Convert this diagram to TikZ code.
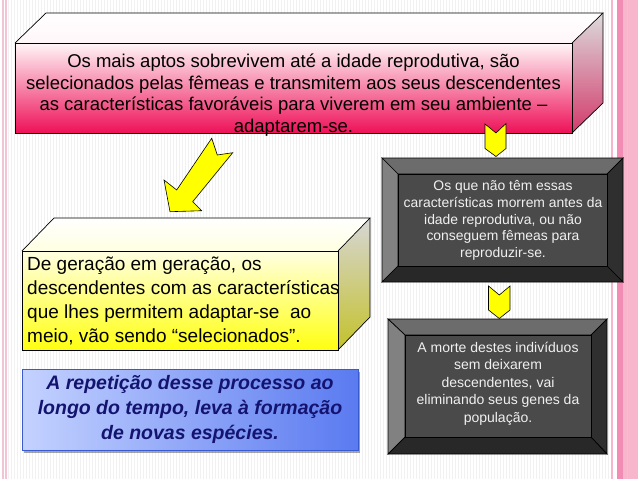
\documentclass[tikz,border=0pt]{standalone}
\usepackage{fontspec}
\setmainfont{Liberation Sans}
\usetikzlibrary{shadows}
\definecolor{bgc}{HTML}{F1F1F1}
\definecolor{pinkA}{HTML}{F2C4D4}
\definecolor{pinkM}{HTML}{F38CB4}
\definecolor{pinkL}{HTML}{F8B6CD}
\definecolor{rtop}{HTML}{FFF6F8}
\definecolor{rmid}{HTML}{F9A6C0}
\definecolor{rbot}{HTML}{EE1058}
\definecolor{rside}{HTML}{D33A6C}
\definecolor{ytop}{HTML}{FFFFE2}
\definecolor{ymid}{HTML}{FFFF90}
\definecolor{ybot}{HTML}{FFFF10}
\definecolor{yside}{HTML}{C4C22A}
\definecolor{bl}{HTML}{C4D2FF}
\definecolor{br}{HTML}{5A7AF0}
\definecolor{bedge}{HTML}{3A5AD0}
\definecolor{navy}{HTML}{141470}
\definecolor{arrowyellow}{HTML}{FFFF00}
\definecolor{bvtop}{HTML}{6C6C6C}
\definecolor{bvleft}{HTML}{818181}
\definecolor{bvright}{HTML}{2F2F2F}
\definecolor{bvbot}{HTML}{282828}
\definecolor{bvin}{HTML}{4A4A4A}
\begin{document}
\begin{tikzpicture}[x=1pt,y=-1pt,
  edge/.style={draw=black,line width=0.7pt,line join=miter},
  chev/.style={fill=arrowyellow,draw=black,line width=0.6pt,line join=miter},
  toptext/.style={align=center,font=\fontsize{18.5}{21.7}\selectfont,inner sep=0pt,text=black},
  ytext/.style={align=left,font=\fontsize{19}{24}\selectfont,inner sep=0pt,text=black},
  btext/.style={align=center,font=\fontsize{19.5}{25}\selectfont\bfseries\itshape,inner sep=0pt,text=navy},
  dtext/.style={align=center,font=\fontsize{13.9}{16.7}\selectfont,inner sep=0pt,text=white!94!black}]
\useasboundingbox (0,0) rectangle (638,479);
% background
\fill[bgc] (0,0) rectangle (638,479);
\foreach \x in {1,4,...,637} \draw[white,line width=1.2pt] (\x,0) -- (\x,479);
\fill[pinkA] (2,0) rectangle (3.5,479);
\fill[pinkA] (5,0) rectangle (6.5,479);
\fill[pinkL] (610.5,0) rectangle (613,479);
\fill[white] (613,0) rectangle (617,479);
\fill[pinkM] (617,0) rectangle (623,479);
\fill[pinkL] (623,0) rectangle (638,479);
\draw[pinkM!60,line width=0.8pt] (627,0) -- (627,479);

% ---------- top 3D box ----------
\shade[top color=white,bottom color=rtop] (15,43) -- (46,13) -- (603,13) -- (572,43) -- cycle;
\shade[top color=rtop,middle color=rmid,bottom color=rbot] (15,43) rectangle (572,133);
\shade[top color=black!14,bottom color=rside] (572,43) -- (603,13) -- (603,103) -- (572,133) -- cycle;
\path[edge] (15,43) rectangle (572,133);
\path[edge] (15,43) -- (46,13) -- (603,13) -- (572,43);
\path[edge] (603,13) -- (603,103) -- (572,133);
\node[toptext] (top) at (293.5,95) {Os mais aptos sobrevivem até a idade reprodutiva, são\\selecionados pelas fêmeas e transmitem aos seus descendentes\\as características favoráveis para viverem em seu ambiente –\\adaptarem-se.};

% ---------- yellow 3D box ----------
\shade[top color=white,bottom color=ytop] (22,251) -- (54,218) -- (370,218) -- (338,251) -- cycle;
\shade[top color=ytop,middle color=ymid,bottom color=ybot] (22,251) rectangle (338,350);
\shade[top color=black!16,bottom color=yside] (338,251) -- (370,218) -- (370,317) -- (338,350) -- cycle;
\path[edge] (22,251) rectangle (338,350);
\path[edge] (22,251) -- (54,218) -- (370,218) -- (338,251);
\path[edge] (370,218) -- (370,317) -- (338,350);
\node[ytext,anchor=west] (gen) at (27,301) {De geração em geração, os\\descendentes com as características\\que lhes permitem adaptar-se~ ao\\meio, vão sendo “selecionados”.};

% ---------- blue box ----------
\path[drop shadow={shadow xshift=1.5pt,shadow yshift=-3pt,opacity=.35,fill=black},
      left color=bl,right color=br,draw=bedge,line width=0.6pt] (22,369) rectangle (358,450);
\node[btext] (rep) at (190,409) {A repetição desse processo ao\\longo do tempo, leva à formação\\de novas espécies.};

% ---------- dark bevel box 1 ----------
\path[edge,fill=bvtop] (382,158) -- (623,158) -- (607,174) -- (398,174) -- cycle;
\path[edge,fill=bvleft] (382,158) -- (398,174) -- (398,266) -- (382,282) -- cycle;
\path[edge,fill=bvright] (623,158) -- (623,282) -- (607,266) -- (607,174) -- cycle;
\path[edge,fill=bvbot] (382,282) -- (398,266) -- (607,266) -- (623,282) -- cycle;
\path[edge,fill=bvin] (398,174) rectangle (607,266);
\node[dtext] (dead) at (503,220.5) {Os que não têm essas\\características morrem antes da\\idade reprodutiva, ou não\\conseguem fêmeas para\\reproduzir-se.};

% ---------- dark bevel box 2 ----------
\path[edge,fill=bvtop] (388,319) -- (607,319) -- (591,335) -- (405,335) -- cycle;
\path[edge,fill=bvleft] (388,319) -- (405,335) -- (405,437) -- (388,454) -- cycle;
\path[edge,fill=bvright] (607,319) -- (607,454) -- (591,437) -- (591,335) -- cycle;
\path[edge,fill=bvbot] (388,454) -- (405,437) -- (591,437) -- (607,454) -- cycle;
\path[edge,fill=bvin] (405,335) rectangle (591,437);
\node[dtext,font=\fontsize{14}{17.5}\selectfont] (morte) at (498,383.5) {A morte destes indivíduos\\sem deixarem\\descendentes, vai\\eliminando seus genes da\\população.};

% ---------- arrows ----------
\path[chev] (211.7,138.3) -- (217.3,155) -- (232.7,152.7) -- (192.7,201.7) -- (201.7,210.7) -- (170,211.7) -- (164,180) -- (176.7,190) -- cycle;
\path[chev] (485,124) -- (496,133) -- (506,123.5) -- (506,148.5) -- (496,156.5) -- (485,148.5) -- cycle;
\path[chev] (488.5,286) -- (499.3,295) -- (510,286) -- (510,310) -- (499.3,318.5) -- (488.5,310) -- cycle;
\end{tikzpicture}
\end{document}
